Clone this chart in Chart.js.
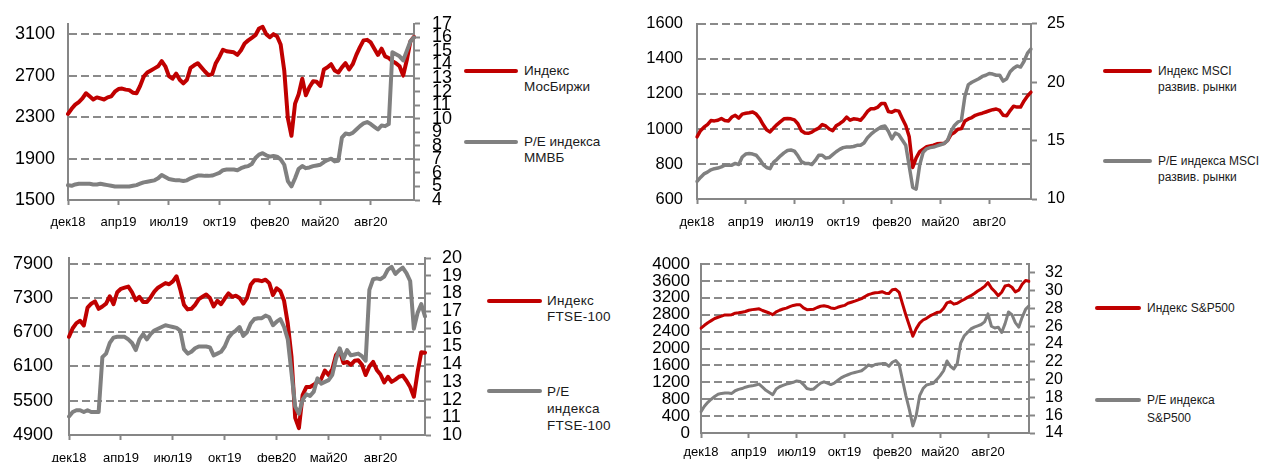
<!DOCTYPE html>
<html lang="ru">
<head>
<meta charset="utf-8">
<title>Индексы и P/E</title>
<script src="https://cdn.jsdelivr.net/npm/chart.js@4.4.1/dist/chart.umd.min.js"></script>
<style>
  html, body { margin: 0; padding: 0; background: #fff; }
  body { width: 1267px; height: 462px; position: relative; overflow: hidden;
         font-family: "Liberation Sans", Arial, sans-serif; }
  canvas { position: absolute; }
  .sw { position: absolute; height: 4px; border-radius: 2px; }
  .lg { position: absolute; color: #1a1a1a; white-space: nowrap; }
</style>
</head>
<body>
<canvas id="c1" width="460" height="231" style="left:0;top:0"></canvas>
<canvas id="c2" width="440" height="231" style="left:630px;top:0"></canvas>
<canvas id="c3" width="470" height="231" style="left:0;top:231px"></canvas>
<canvas id="c4" width="440" height="231" style="left:630px;top:231px"></canvas>

<!-- легенды -->
<div class="sw" style="left:464px;top:69px;width:54px;background:#c00000"></div>
<div class="lg" style="left:524px;top:63px;font-size:13.5px;line-height:16px">Индекс<br>МосБиржи</div>
<div class="sw" style="left:464px;top:140px;width:54px;background:#808080"></div>
<div class="lg" style="left:524px;top:134px;font-size:13.5px;line-height:16px">P/E индекса<br>ММВБ</div>

<div class="sw" style="left:1103px;top:69px;width:49px;background:#c00000"></div>
<div class="lg" style="left:1158px;top:63px;font-size:12px;line-height:16px">Индекс MSCI<br>развив. рынки</div>
<div class="sw" style="left:1103px;top:159px;width:49px;background:#808080"></div>
<div class="lg" style="left:1158px;top:153px;font-size:12px;line-height:16px">P/E индекса MSCI<br>развив. рынки</div>

<div class="sw" style="left:487px;top:299px;width:55px;background:#c00000"></div>
<div class="lg" style="left:547px;top:293px;font-size:13.5px;line-height:16px;letter-spacing:0.3px">Индекс<br>FTSE-100</div>
<div class="sw" style="left:487px;top:389px;width:55px;background:#808080"></div>
<div class="lg" style="left:547px;top:383px;font-size:13.5px;line-height:17px;letter-spacing:0.3px">P/E<br>индекса<br>FTSE-100</div>

<div class="sw" style="left:1095px;top:306px;width:46px;background:#c00000"></div>
<div class="lg" style="left:1147px;top:300px;font-size:12px;line-height:16px">Индекс S&amp;P500</div>
<div class="sw" style="left:1095px;top:398px;width:46px;background:#808080"></div>
<div class="lg" style="left:1147px;top:391px;font-size:12px;line-height:18px">P/E индекса<br>S&amp;P500</div>

<script>
// недельные точки, дек 2018 - окт 2020
const weeks = [];
for (let i = 0; i < 97; i++) {
  const d = new Date(Date.UTC(2018, 11, 3 + i * 7));
  weeks.push(d.toISOString().slice(0, 10));
}
const xTickIdx = [0, 14, 28, 42, 56, 70, 84];
const xTickLabels = ["дек18", "апр19", "июл19", "окт19", "фев20", "май20", "авг20"];

// Индекс МосБиржи и P/E ММВБ
const mmvbIdx = [2330,2380,2420,2445,2480,2530,2500,2470,2490,2480,
  2470,2490,2500,2545,2570,2575,2565,2560,2535,2530,
  2600,2690,2730,2750,2770,2790,2840,2790,2695,2670,
  2720,2660,2625,2660,2775,2800,2820,2780,2740,2705,
  2715,2820,2880,2950,2935,2930,2925,2900,2945,3010,
  3040,3065,3090,3155,3170,3100,3070,3100,3080,3000,
  2750,2290,2120,2430,2520,2670,2510,2590,2645,2640,
  2600,2760,2780,2810,2750,2730,2780,2820,2760,2810,
  2900,2975,3040,3045,3020,2960,2900,2960,2885,2870,
  2840,2820,2790,2700,2850,3030,3075];
const mmvbPE = [5.1,5.05,5.15,5.2,5.2,5.2,5.2,5.15,5.15,5.2,
  5.15,5.1,5.05,5.0,5.0,5.0,5.0,5.0,5.05,5.1,
  5.2,5.3,5.35,5.4,5.45,5.6,5.85,5.7,5.55,5.5,
  5.45,5.45,5.4,5.45,5.6,5.7,5.8,5.8,5.78,5.78,
  5.8,5.9,6.0,6.2,6.25,6.25,6.25,6.2,6.35,6.45,
  6.5,6.65,7.1,7.35,7.45,7.3,7.2,7.25,7.2,7.0,
  6.6,5.4,5.0,5.6,6.3,6.5,6.35,6.4,6.5,6.55,
  6.6,6.8,6.95,7.05,6.85,6.9,8.6,8.9,8.85,8.95,
  9.2,9.45,9.65,9.75,9.6,9.4,9.2,9.5,9.45,9.6,
  14.9,14.75,14.6,14.3,15.0,15.7,16.0];
const mmvbLeftTicks = [1500, 1900, 2300, 2700, 3100];
const mmvbRightTicks = [4,5,6,7,8,9,10,11,12,13,14,15,16,17];

// MSCI развитые рынки
const msciIdx = [955,990,1010,1025,1048,1046,1050,1060,1048,1045,
  1068,1078,1062,1085,1090,1093,1097,1085,1060,1025,
  995,983,1005,1025,1042,1058,1060,1058,1052,1030,
  990,977,975,982,995,1005,1025,1017,1000,990,
  1018,1030,1045,1068,1050,1058,1056,1050,1072,1100,
  1116,1116,1125,1145,1145,1100,1095,1106,1102,1060,
  1020,955,780,835,870,885,898,903,907,915,
  917,917,934,968,980,998,1002,1045,1057,1065,
  1078,1085,1090,1097,1104,1110,1114,1106,1078,1075,
  1105,1130,1125,1125,1160,1188,1210];
const msciPE = [11.5,11.85,12.15,12.3,12.5,12.6,12.65,12.75,12.9,12.9,
  12.9,13.05,12.95,13.6,13.85,13.9,13.85,13.75,13.4,12.95,
  12.7,12.6,13.15,13.4,13.7,13.95,14.15,14.2,14.1,13.7,
  13.2,13.05,13.05,12.95,13.3,13.75,13.75,13.5,13.55,13.8,
  14.05,14.25,14.4,14.45,14.45,14.5,14.6,14.6,14.8,15.25,
  15.55,15.8,16.0,16.2,16.25,15.8,15.15,15.65,15.5,15.05,
  14.6,12.8,11.0,10.85,12.9,14.0,14.3,14.4,14.45,14.55,
  14.65,14.75,15.0,15.8,16.3,16.6,16.75,18.8,19.8,20.0,
  20.15,20.3,20.5,20.6,20.75,20.7,20.6,20.6,20.1,20.3,
  20.9,21.2,21.4,21.3,21.8,22.5,22.85];
const msciLeftTicks = [600, 800, 1000, 1200, 1400, 1600];
const msciRightTicks = [10, 15, 20, 25];

// FTSE-100
const ftseIdx = [6620,6770,6860,6900,6820,7130,7200,7240,7110,7150,
  7200,7330,7190,7400,7460,7480,7500,7400,7260,7320,
  7230,7230,7310,7410,7480,7520,7560,7540,7590,7680,
  7450,7180,7100,7110,7180,7280,7320,7360,7300,7150,
  7250,7190,7290,7380,7320,7340,7300,7200,7300,7530,
  7610,7610,7595,7620,7560,7350,7470,7420,7250,6850,
  6270,5200,5020,5600,5740,5740,5780,5830,5880,6030,
  5950,6050,6300,6380,6160,6180,6130,6200,6210,6130,
  5950,6100,6180,6040,5960,5820,5920,5830,5870,5920,
  5940,5850,5740,5570,6000,6350,6340];
const ftsePE = [11.05,11.3,11.4,11.4,11.3,11.4,11.3,11.3,11.3,14.4,
  14.6,15.2,15.5,15.55,15.55,15.55,15.4,15.2,14.8,15.4,
  15.7,15.4,15.7,15.9,16.0,16.1,16.2,16.15,16.1,16.05,
  15.9,14.85,14.6,14.7,14.9,15.0,15.0,15.0,14.95,14.5,
  14.6,14.7,15.0,15.5,15.75,15.9,16.1,15.6,15.8,16.3,
  16.55,16.6,16.6,16.75,16.65,16.2,16.4,16.55,16.1,15.4,
  13.5,11.6,11.2,12.0,12.3,12.2,12.45,13.2,12.9,13.0,
  13.1,13.4,14.3,14.9,14.3,14.8,14.5,14.55,14.6,14.45,
  14.2,18.2,18.8,18.85,18.8,18.95,19.35,19.5,19.1,19.3,
  19.45,19.15,18.7,16.0,16.9,17.4,16.7];
const ftseLeftTicks = [4900, 5500, 6100, 6700, 7300, 7900];
const ftseRightTicks = [10,11,12,13,14,15,16,17,18,19,20];

// S&P500
const spxIdx = [2480,2550,2610,2660,2710,2740,2765,2795,2795,2800,
  2835,2845,2860,2875,2905,2920,2930,2940,2900,2870,
  2840,2800,2865,2905,2935,2955,2990,3020,3035,3035,
  2960,2920,2925,2930,2970,3000,3010,2995,2960,2945,
  2975,3000,3020,3070,3095,3120,3150,3180,3230,3275,
  3300,3320,3325,3345,3310,3300,3390,3400,3330,3050,
  2780,2540,2290,2470,2600,2675,2715,2770,2810,2850,
  2865,2950,3080,3110,3050,3070,3120,3160,3210,3250,
  3300,3360,3410,3470,3560,3430,3350,3250,3330,3480,
  3500,3450,3340,3380,3520,3610,3590];
const spxPE = [16.4,17.0,17.45,17.8,18.1,18.35,18.45,18.5,18.5,18.45,
  18.75,18.9,19.0,19.15,19.25,19.3,19.4,19.5,19.15,18.8,
  18.55,18.3,18.95,19.2,19.35,19.5,19.6,19.7,19.85,19.8,
  19.45,19.0,18.9,18.95,19.3,19.6,19.75,19.6,19.45,19.6,
  19.9,20.2,20.4,20.55,20.7,20.8,20.9,21.0,21.3,21.65,
  21.5,21.7,21.75,21.8,21.8,21.5,21.95,22.15,21.7,19.9,
  18.15,16.6,14.8,16.0,18.2,19.0,19.4,19.5,19.6,20.0,
  20.45,21.0,22.1,21.5,21.2,21.8,24.1,24.9,25.3,25.7,
  25.9,26.05,26.2,26.5,27.4,26.0,25.8,25.9,25.3,26.3,
  27.6,27.3,26.4,25.9,27.0,27.9,28.3];
const spxLeftTicks = [0,400,800,1200,1600,2000,2400,2800,3200,3600,4000];
const spxRightTicks = [14,16,18,20,22,24,26,28,30,32];

const RED = "#c00000";
const GRAY = "#808080";
const AXIS = "#868686";
const GRID = "#8a8a8a";
const FONT = "'Liberation Sans', Arial, sans-serif";

function makeChart(id, o) {
  const canvas = document.getElementById(id);
  const W = canvas.width, H = canvas.height;
  return new Chart(canvas, {
    type: "line",
    data: {
      labels: weeks,
      datasets: [
        { label: o.redLabel, data: o.red, yAxisID: "y", borderColor: RED, borderWidth: o.lw, order: 2 },
        { label: o.grayLabel, data: o.gray, yAxisID: "y1", borderColor: GRAY, borderWidth: o.lw, order: 1 }
      ]
    },
    options: {
      responsive: false,
      animation: false,
      layout: { padding: { top: o.top, left: 0, right: 0, bottom: 0 } },
      elements: {
        point: { radius: 0 },
        line: { tension: 0, borderJoinStyle: "round", borderCapStyle: "round" }
      },
      plugins: { legend: { display: false }, tooltip: { enabled: false } },
      scales: {
        x: {
          type: "category",
          afterBuildTicks: s => { s.ticks = xTickIdx.map(v => ({ value: v })); },
          afterFit: s => { s.height = H - o.bottom; },
          ticks: {
            autoSkip: false, maxRotation: 0, padding: o.xp, color: "#000",
            font: { family: FONT, size: 13 },
            callback: v => xTickLabels[xTickIdx.indexOf(v)]
          },
          grid: { drawOnChartArea: false, drawTicks: true, tickLength: 5, tickWidth: 2, tickColor: AXIS, color: AXIS },
          border: { color: AXIS, width: 2 }
        },
        y: {
          position: "left",
          min: o.leftTicks[0], max: o.leftMax, bounds: "data",
          afterBuildTicks: s => { s.ticks = o.leftTicks.map(v => ({ value: v })); },
          afterFit: s => { s.width = o.left; },
          ticks: {
            autoSkip: false, padding: o.lp, color: "#000",
            font: { family: FONT, size: o.lf },
            callback: v => String(v)
          },
          grid: {
            drawTicks: false, lineWidth: 2,
            color: c => (c.tick && c.tick.value === o.leftTicks[0]) ? "rgba(0,0,0,0)" : GRID
          },
          border: { color: AXIS, width: 2, dash: [8, 4] }
        },
        y1: {
          position: "right",
          min: o.rightTicks[0], max: o.rightMax, bounds: "data",
          afterBuildTicks: s => { s.ticks = o.rightTicks.map(v => ({ value: v })); },
          afterFit: s => { s.width = W - o.right; },
          ticks: {
            autoSkip: false, padding: o.rp, color: "#000",
            font: { family: FONT, size: o.rf },
            callback: v => String(v)
          },
          grid: { drawOnChartArea: false, drawTicks: true, tickLength: 6, tickWidth: 2, tickColor: AXIS },
          border: { color: AXIS, width: 2 }
        }
      }
    }
  });
}

makeChart("c1", {
  redLabel: "Индекс МосБиржи", grayLabel: "P/E индекса ММВБ",
  red: mmvbIdx, gray: mmvbPE, lw: 4,
  leftTicks: mmvbLeftTicks, leftMax: 3200, rightTicks: mmvbRightTicks, rightMax: 17,
  left: 68, right: 414, top: 23, bottom: 200,
  lf: 18, rf: 18, lp: 13, rp: 12, xp: 10
});
makeChart("c2", {
  redLabel: "Индекс MSCI развив. рынки", grayLabel: "P/E индекса MSCI развив. рынки",
  red: msciIdx, gray: msciPE, lw: 3.5,
  leftTicks: msciLeftTicks, leftMax: 1600, rightTicks: msciRightTicks, rightMax: 25,
  left: 67, right: 401, top: 23, bottom: 199,
  lf: 16.5, rf: 16, lp: 14, rp: 10, xp: 11
});
makeChart("c3", {
  redLabel: "Индекс FTSE-100", grayLabel: "P/E индекса FTSE-100",
  red: ftseIdx, gray: ftsePE, lw: 4,
  leftTicks: ftseLeftTicks, leftMax: 8000, rightTicks: ftseRightTicks, rightMax: 20,
  left: 69, right: 425, top: 27, bottom: 204,
  lf: 18, rf: 18, lp: 16, rp: 11, xp: 11
});
makeChart("c4", {
  redLabel: "Индекс S&P500", grayLabel: "P/E индекса S&P500",
  red: spxIdx, gray: spxPE, lw: 3,
  leftTicks: spxLeftTicks, leftMax: 4000, rightTicks: spxRightTicks, rightMax: 33,
  left: 71, right: 399, top: 33, bottom: 202,
  lf: 17, rf: 16, lp: 11, rp: 10, xp: 7
});
</script>
</body>
</html>
